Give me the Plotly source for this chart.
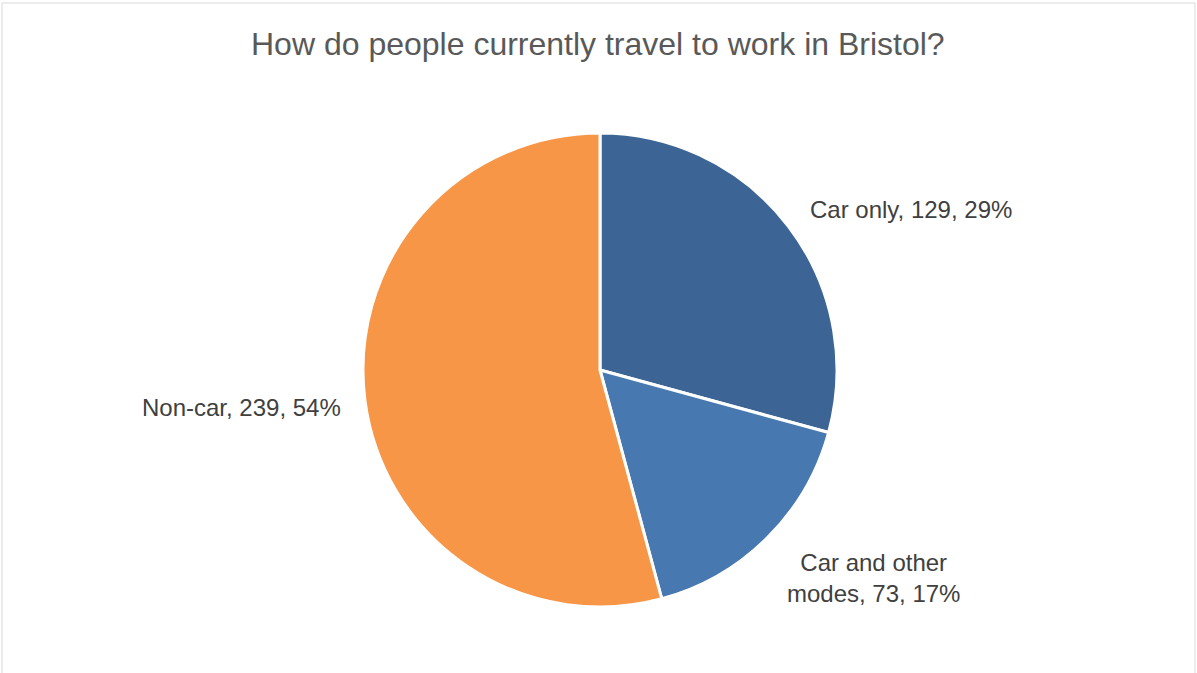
import plotly.graph_objects as go

W, H = 1197, 673

categories = ["Car only", "Car and other modes", "Non-car"]
values = [129, 73, 239]
colors = ["#3C6595", "#4878B0", "#F79646"]
label_text = ["Car only, 129, 29%", "Car and other<br>modes, 73, 17%", "Non-car, 239, 54%"]
# label centre positions in pixels (x, y from top)
label_pos = [(911, 209), (873, 578), (241, 407)]

cx, cy, r = 600, 370, 237

fig = go.Figure()
fig.add_trace(go.Pie(
    labels=categories,
    values=values,
    sort=False,
    direction="clockwise",
    rotation=0,
    marker=dict(colors=colors, line=dict(color="white", width=3)),
    textinfo="none",
    hoverinfo="label+value+percent",
    showlegend=False,
    domain=dict(x=[(cx - r) / W, (cx + r) / W], y=[1 - (cy + r) / H, 1 - (cy - r) / H]),
))

for txt, (px, py) in zip(label_text, label_pos):
    fig.add_annotation(
        x=px / W, y=1 - py / H, xref="paper", yref="paper",
        text=txt, showarrow=False, xanchor="center", yanchor="middle",
        font=dict(family="Liberation Sans, Arial, sans-serif", size=24, color="#404040"),
        align="center",
    )

fig.add_annotation(
    x=598 / W, y=1 - 44 / H, xref="paper", yref="paper",
    text="How do people currently travel to work in Bristol?", showarrow=False,
    xanchor="center", yanchor="middle",
    font=dict(family="Liberation Sans, Arial, sans-serif", size=32, color="#595959"),
)

fig.add_shape(type="rect", xref="paper", yref="paper",
              x0=2 / W, x1=1195 / W, y0=-0.02, y1=1 - 3 / H,
              line=dict(color="#D9D9D9", width=1), fillcolor="rgba(0,0,0,0)")

fig.update_layout(
    width=W, height=H,
    margin=dict(l=0, r=0, t=0, b=0),
    paper_bgcolor="white", plot_bgcolor="white",
)

fig.write_html("out.html", config={"displayModeBar": False},
               post_script="document.body.style.margin='0';document.body.style.overflow='hidden';")
